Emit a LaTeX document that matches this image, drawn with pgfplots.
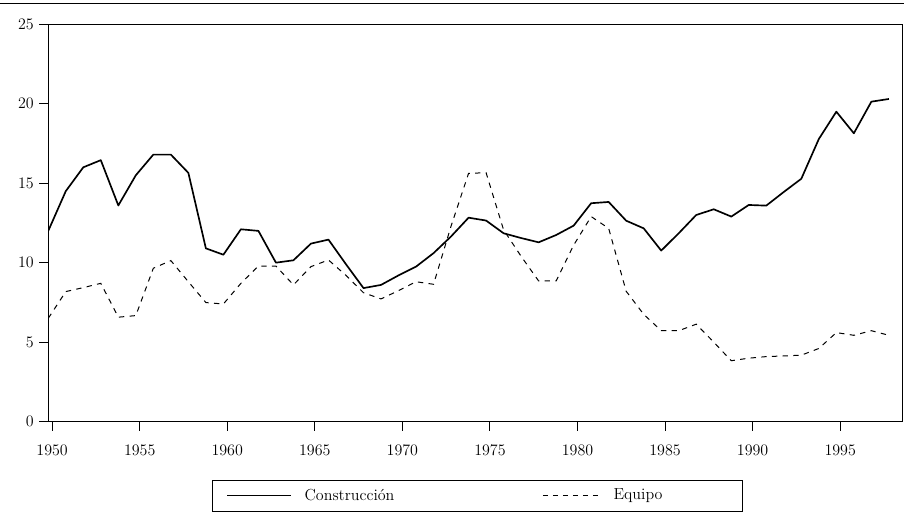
\documentclass[border=0pt,12pt]{standalone}
\usepackage{pgfplots}
\pgfplotsset{compat=1.18}
\pgfplotstableread{
year cons equi
1950 12.0 6.5
1951 14.5 8.18
1952 16.0 8.43
1953 16.45 8.7
1954 13.6 6.57
1955 15.5 6.67
1956 16.8 9.65
1957 16.8 10.13
1958 15.65 8.8
1959 10.9 7.49
1960 10.5 7.4
1961 12.1 8.7
1962 12.0 9.79
1963 10.0 9.79
1964 10.15 8.6
1965 11.2 9.75
1966 11.45 10.17
1967 9.9 9.2
1968 8.4 8.11
1969 8.6 7.72
1970 9.2 8.24
1971 9.75 8.8
1972 10.6 8.64
1973 11.65 12.3
1974 12.83 15.62
1975 12.65 15.66
1976 11.85 12.06
1977 11.55 10.4
1978 11.28 8.85
1979 11.74 8.85
1980 12.33 11.1
1981 13.74 12.9
1982 13.82 12.16
1983 12.64 8.2
1984 12.16 6.75
1985 10.76 5.72
1986 11.85 5.72
1987 13.0 6.13
1988 13.36 5.0
1989 12.9 3.83
1990 13.63 3.99
1991 13.59 4.09
1992 14.45 4.13
1993 15.28 4.18
1994 17.78 4.6
1995 19.5 5.6
1996 18.14 5.43
1997 20.13 5.72
1998 20.3 5.43
}\datatable
\begin{document}
\begin{tikzpicture}
\begin{axis}[
  scale only axis,
  width=640.7pt, height=298pt,
  xmin=1950, xmax=1998.78,
  ymin=0, ymax=25,
  xtick={1950.22,1955.22,1960.22,1965.22,1970.22,1975.22,1980.22,1985.22,1990.22,1995.22},
  xticklabels={1950,1955,1960,1965,1970,1975,1980,1985,1990,1995},
  ytick={0,5,10,15,20,25},
  tick align=outside,
  xtick pos=lower, ytick pos=left,
  major tick length=6.75pt,
  tick style={line width=0.7pt, black},
  axis line style={line width=0.7pt},
  xticklabel style={yshift=-6.5pt},
  yticklabel style={xshift=0pt},
  legend columns=2,
  legend style={at={(0.5026,-0.1866)}, anchor=center, draw=black, line width=0.7pt,
    inner xsep=0pt, inner ysep=6.5pt, column sep=0pt, nodes={inner sep=0pt}},
]
\addplot[black, line width=1.25pt, line join=round,
  legend image code/.code={\path[draw=none] (-11.25pt,0pt) -- (58pt,0pt);
    \draw[black,line width=1pt,solid] (0pt,0pt) -- (47.5pt,0pt);}]
  table[x=year, y=cons] {\datatable};
\addlegendentry{\makebox[178.3pt][l]{Construcción}}
\addplot[black, line width=0.75pt, dash pattern=on 4pt off 4pt,
  legend image code/.code={\path[draw=none] (0pt,0pt) -- (53pt,0pt);
    \draw[black,line width=0.75pt,dash pattern=on 3.75pt off 3.75pt] (0pt,0pt) -- (41.7pt,0pt);}]
  table[x=year, y=equi] {\datatable};
\addlegendentry{\makebox[97pt][l]{Equipo}}
\end{axis}
\draw[line width=0.8pt] (-36.2pt,313.75pt) -- (641.8pt,313.75pt);
\pgfresetboundingbox
\path (-36.2pt,-77.5pt) rectangle (641.8pt,316.2pt);
\end{tikzpicture}
\end{document}
